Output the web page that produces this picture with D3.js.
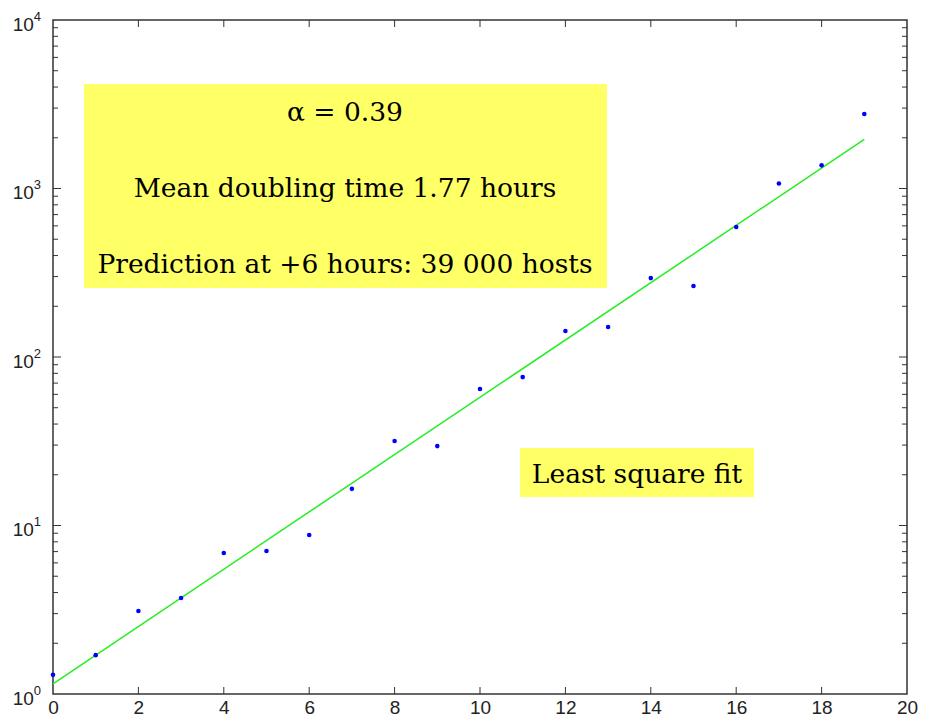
<!DOCTYPE html>
<html>
<head>
<meta charset="utf-8">
<script src="https://cdn.jsdelivr.net/npm/d3@7"></script>
<style>
  body { margin: 0; background: #fff; }
  svg { display: block; }
  .note { font-family: "DejaVu Serif", serif; fill: #000; }
</style>
</head>
<body>
<script>
// hours since start
var hours = [0, 1, 2, 3, 4, 5, 6, 7, 8, 9, 10, 11, 12, 13, 14, 15, 16, 17, 18, 19];
// infected hosts
var hosts = [1.30, 1.70, 3.11, 3.71, 6.87, 7.06, 8.78, 16.5, 31.7, 29.6,
             64.6, 76, 142.6, 150.7, 294, 264, 591, 1070, 1372, 2768];
var xTicks = [0, 2, 4, 6, 8, 10, 12, 14, 16, 18, 20];
var yTicks = [1, 10, 100, 1000, 10000];
var notes = ["\u03b1 = 0.39", "Mean doubling time 1.77 hours", "Prediction at +6 hours: 39 000 hosts"];

var w = 935, h = 722;
var margin = { top: 20, right: 28, bottom: 28, left: 53 };
var width = w - margin.left - margin.right;
var height = h - margin.top - margin.bottom;

var x = d3.scaleLinear().domain([0, 20]).range([0, width]);
var y = d3.scaleLog().domain([1, 10000]).range([height, 0]);

var svg = d3.select("body").append("svg")
    .attr("width", w)
    .attr("height", h);

var chart = svg.append("g")
    .attr("transform", "translate(" + margin.left + "," + margin.top + ")");

// minor ticks 2..9 in each decade
var minor = [];
for (var k = 0; k < 4; k++) {
  for (var m = 2; m < 10; m++) minor.push(m * Math.pow(10, k));
}

var axisColor = "#333";

// ticks pointing inward, box on all sides
function drawTicks() {
  var g = chart.append("g").attr("stroke", axisColor).attr("stroke-width", 1);
  xTicks.slice(1, -1).forEach(function (t) {
    g.append("line").attr("x1", x(t)).attr("x2", x(t)).attr("y1", height).attr("y2", height - 7);
    g.append("line").attr("x1", x(t)).attr("x2", x(t)).attr("y1", 0).attr("y2", 7);
  });
  yTicks.slice(1, -1).forEach(function (t) {
    g.append("line").attr("x1", 0).attr("x2", 8).attr("y1", y(t)).attr("y2", y(t));
    g.append("line").attr("x1", width).attr("x2", width - 8).attr("y1", y(t)).attr("y2", y(t));
  });
  minor.forEach(function (t) {
    g.append("line").attr("x1", 0).attr("x2", 5).attr("y1", y(t)).attr("y2", y(t));
    g.append("line").attr("x1", width).attr("x2", width - 5).attr("y1", y(t)).attr("y2", y(t));
  });
}
drawTicks();

chart.append("rect")
    .attr("width", width)
    .attr("height", height)
    .attr("fill", "none")
    .attr("stroke", axisColor)
    .attr("stroke-width", 1.5);

// tick labels
var xAxis = d3.axisBottom(x).tickValues(xTicks).tickSize(0).tickPadding(7);
var xg = chart.append("g")
    .attr("transform", "translate(0," + height + ")")
    .call(xAxis)
    .attr("font-family", "'Liberation Sans', Arial, sans-serif")
    .attr("font-size", 19);
xg.select(".domain").remove();
xg.selectAll(".tick text").attr("fill", "#222");

var yAxis = d3.axisLeft(y).tickValues(yTicks).tickSize(0).tickPadding(12).tickFormat("");
var yg = chart.append("g")
    .call(yAxis)
    .attr("font-family", "'Liberation Sans', Arial, sans-serif")
    .attr("font-size", 19);
yg.select(".domain").remove();
yg.selectAll(".tick text")
    .attr("fill", "#222")
    .attr("dy", "0.55em")
    .each(function (d) {
      var t = d3.select(this);
      t.append("tspan").text("10");
      t.append("tspan").attr("dy", "-0.8em").attr("font-size", "13px").text(Math.round(Math.log10(d)));
    });

// annotation boxes
var noteBox = svg.append("g");
noteBox.append("rect")
    .attr("x", 84).attr("y", 84).attr("width", 523).attr("height", 204)
    .attr("fill", "#ffff66");
var noteY = [121, 197, 273];
notes.forEach(function (s, i) {
  noteBox.append("text")
      .attr("class", "note")
      .attr("x", 345)
      .attr("y", noteY[i])
      .attr("text-anchor", "middle")
      .attr("font-size", "26.5px")
      .text(s);
});

svg.append("rect")
    .attr("x", 520).attr("y", 448).attr("width", 234).attr("height", 49)
    .attr("fill", "#ffff66");
svg.append("text")
    .attr("class", "note")
    .attr("x", 637)
    .attr("y", 483)
    .attr("text-anchor", "middle")
    .attr("font-size", "26.5px")
    .text("Least square fit");

// least square fit on log scale
var lx = hours, ly = hosts.map(function (v) { return Math.log(v); });
var mx = d3.mean(lx), my = d3.mean(ly);
var sxy = d3.sum(lx, function (v, i) { return (v - mx) * (ly[i] - my); });
var sxx = d3.sum(lx, function (v) { return (v - mx) * (v - mx); });
var alpha = sxy / sxx;
var b = my - alpha * mx;
var fitX = [hours[0], hours[hours.length - 1]];

chart.append("path")
    .datum(fitX)
    .attr("fill", "none")
    .attr("stroke", "#22ee22")
    .attr("stroke-width", 1.5)
    .attr("d", d3.line()
      .x(function (d) { return x(d); })
      .y(function (d) { return y(Math.exp(b + alpha * d)); }));

chart.selectAll(".pt")
    .data(hours)
    .enter().append("circle")
    .attr("class", "pt")
    .attr("cx", function (d) { return x(d); })
    .attr("cy", function (d, i) { return y(hosts[i]); })
    .attr("r", 2.3)
    .attr("fill", "#0000ff");
</script>
</body>
</html>
